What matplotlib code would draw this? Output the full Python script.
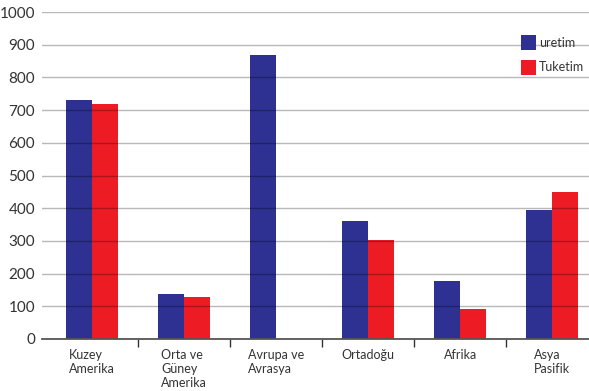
import matplotlib.pyplot as plt
import numpy as np

regions = ["Kuzey\nAmerika", "Orta ve\nGüney\nAmerika", "Avrupa ve\nAvrasya",
           "Ortadoğu", "Afrika", "Asya\nPasifik"]
uretim = [730, 137, 868, 362, 176, 395]
tuketim = [718, 127, 0, 303, 91, 449]
y_ticks = [0, 100, 200, 300, 400, 500, 600, 700, 800, 900, 1000]

plt.rcParams['font.family'] = ['Lato', 'DejaVu Sans']

fig = plt.figure(figsize=(5.89, 3.91), dpi=100)
ax = fig.add_axes([42 / 589, 1 - 339 / 391, 547 / 589, 327 / 391])

x = np.arange(len(regions))
w = 0.285
ax.bar(x - w / 2, uretim, w, color="#2E3192", label="uretim", zorder=1)
ax.bar(x + w / 2, tuketim, w, color="#ED1C24", label="Tuketim", zorder=1)

ax.set_xlim(-0.543, 5.40)
ax.set_ylim(0, 1000)
ax.set_yticks(y_ticks)
ax.tick_params(axis='y', length=0, pad=5, labelsize=11, labelcolor="#333333")

# group separators as major ticks, region names as minor ticks
ax.set_xticks(x[:-1] + 0.5)
ax.set_xticklabels([])
ax.tick_params(axis='x', which='major', direction='out', length=6,
               width=1, color="#333333")
ax.set_xticks(x, minor=True)
ax.set_xticklabels(regions, minor=True, fontsize=9, color="#333333",
                   multialignment='left', va='top')
ax.tick_params(axis='x', which='minor', length=0, pad=7)

for v in y_ticks[1:]:
    ax.axhline(v, color="black", alpha=0.28, lw=1, zorder=3)

for s in ["left", "right", "top"]:
    ax.spines[s].set_visible(False)
ax.spines["bottom"].set_color("#555555")
ax.spines["bottom"].set_linewidth(1.3)
ax.spines["bottom"].set_zorder(4)

leg = ax.legend(loc="upper right", bbox_to_anchor=(1.0, 0.945), frameon=False,
                fontsize=9, handlelength=1.2, handleheight=1.5,
                handletextpad=0.25, labelspacing=0.75, borderaxespad=0.0,
                labelcolor="#333333")

fig.savefig("out.png", dpi=100)
